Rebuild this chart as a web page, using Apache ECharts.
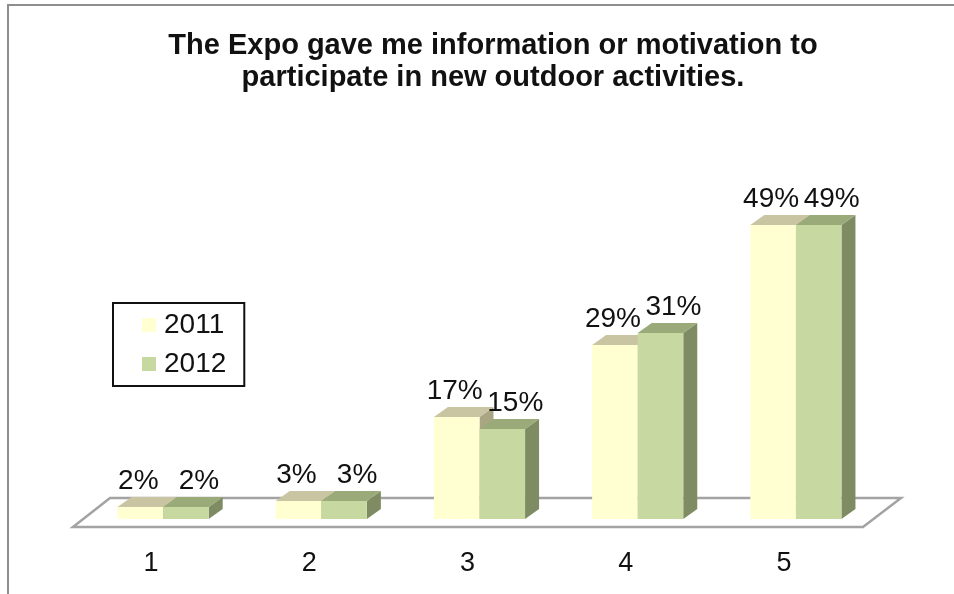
<!DOCTYPE html>
<html>
<head>
<meta charset="utf-8">
<title>Expo outdoor activities</title>
<script src="https://cdn.jsdelivr.net/npm/echarts@6/dist/echarts.min.js"></script>
<style>
    html, body { margin: 0; padding: 0; background: #fff; overflow: hidden; }
    #frame {
        position: absolute; left: 7px; top: 4px; right: -10px; bottom: -10px;
        border: 2px solid #8e8e8e;
    }
    #chart { position: absolute; left: 0; top: 0; width: 954px; height: 594px; }
</style>
</head>
<body>
<div id="frame"></div>
<div id="chart"></div>
<script>
// 数据
var categories = ['1', '2', '3', '4', '5'];
var values2011 = [2, 3, 17, 29, 49];
var values2012 = [2, 3, 15, 31, 49];

var FONT = '"Liberation Sans", Arial, sans-serif';
var DX = 14, DY = 10;   // 柱子的厚度

var colors = {
    '2011': { front: '#FFFFD2', top: '#C9C5A2', side: '#A9A683', labelShift: -2 },
    '2012': { front: '#C7D9A0', top: '#9AAA78', side: '#7E8B63', labelShift: 13 }
};

function barRender(name, left) {
    var c = colors[name];
    return function (params, api) {
        var idx = api.value(0);
        var base = api.coord([idx, 0]);
        var top = api.coord([idx, api.value(1)]);
        var bw = api.size([1, 0])[0] * 0.288;
        var x0 = left ? base[0] - bw : base[0];
        var x1 = x0 + bw;
        var yt = top[1], yb = base[1];
        return {
            type: 'group',
            children: [
                {
                    type: 'polygon',
                    shape: { points: [[x1, yt], [x1 + DX, yt - DY], [x1 + DX, yb - DY], [x1, yb]] },
                    style: { fill: c.side }
                },
                {
                    type: 'rect',
                    shape: { x: x0, y: yt, width: bw, height: yb - yt },
                    style: { fill: c.front }
                },
                {
                    type: 'polygon',
                    shape: { points: [[x0, yt], [x1, yt], [x1 + DX, yt - DY], [x0 + DX, yt - DY]] },
                    style: { fill: c.top }
                },
                {
                    type: 'text',
                    x: (x0 + x1) / 2 + c.labelShift,
                    y: yt - DY - 2,
                    style: {
                        text: api.value(1) + '%',
                        font: '28px ' + FONT,
                        fill: '#111',
                        align: 'center',
                        verticalAlign: 'bottom'
                    }
                }
            ]
        };
    };
}

function floorRender(params, api) {
    var cs = params.coordSys;
    var yb = cs.y + cs.height;
    return {
        type: 'polygon',
        shape: {
            points: [
                [cs.x - 11, yb + 8],
                [cs.x + cs.width - 12, yb + 8],
                [cs.x + cs.width + 26, yb - 21],
                [cs.x + 26, yb - 21]
            ]
        },
        style: { fill: '#fff', stroke: '#a3a3a3', lineWidth: 2.5 }
    };
}

var myChart = echarts.init(document.getElementById('chart'), null, { renderer: 'canvas' });

var option = {
    animation: false,
    title: {
        text: 'The Expo gave me information or motivation to\nparticipate in new outdoor activities.',
        left: 488,
        top: 25,
        textAlign: 'center',
        textStyle: {
            fontFamily: FONT,
            fontSize: 29,
            fontWeight: 'bold',
            lineHeight: 32,
            color: '#111'
        }
    },
    legend: {
        data: ['2011', '2012'],
        orient: 'vertical',
        left: 113,
        top: 303,
        icon: 'rect',
        itemWidth: 14,
        itemHeight: 14,
        itemGap: 11,
        padding: [8, 18, 8, 29],
        borderColor: '#111',
        borderWidth: 2,
        textStyle: { fontFamily: FONT, fontSize: 28, color: '#111', padding: [0, 0, 0, 3] }
    },
    grid: { left: 84, right: 79, top: 219, bottom: 75 },
    xAxis: {
        type: 'category',
        data: categories,
        axisLine: { show: false },
        axisTick: { show: false },
        axisLabel: {
            margin: 31,
            fontFamily: FONT,
            fontSize: 27,
            color: '#111',
            padding: [0, 24, 0, 0]
        }
    },
    yAxis: {
        type: 'value',
        min: 0,
        max: 50,
        show: false,
        splitLine: { show: false }
    },
    series: [
        {
            name: 'floor',
            type: 'custom',
            data: [[0, 0]],
            renderItem: floorRender,
            silent: true,
            z: 1
        },
        {
            name: '2011',
            type: 'custom',
            itemStyle: { color: colors['2011'].front },
            data: values2011.map(function (v, i) { return [i, v]; }),
            renderItem: barRender('2011', true),
            z: 2
        },
        {
            name: '2012',
            type: 'custom',
            itemStyle: { color: colors['2012'].front },
            data: values2012.map(function (v, i) { return [i, v]; }),
            renderItem: barRender('2012', false),
            z: 3
        }
    ]
};

myChart.setOption(option);
window.addEventListener('resize', myChart.resize);
</script>
</body>
</html>
